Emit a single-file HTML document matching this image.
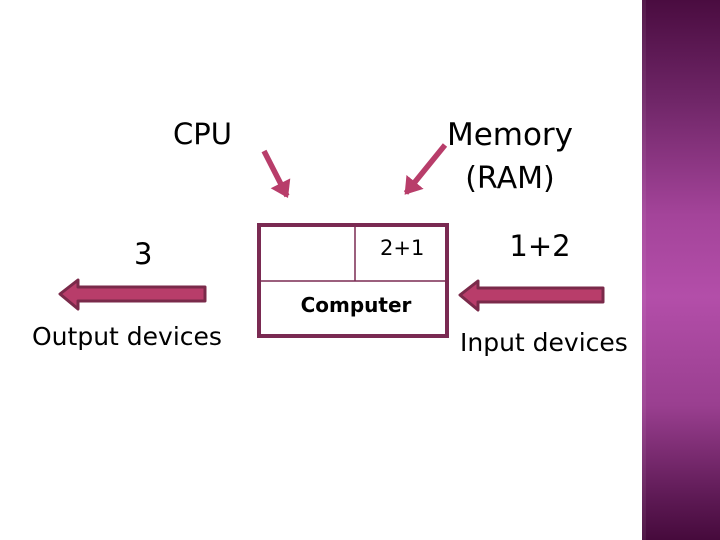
<!DOCTYPE html>
<html><head><meta charset="utf-8"><style>
html,body{margin:0;padding:0;background:#fff;}
body{width:720px;height:540px;overflow:hidden;position:relative;font-family:"DejaVu Sans","Liberation Sans",sans-serif;}
.bar{position:absolute;left:642px;top:0;width:78px;height:540px;
background:linear-gradient(to bottom,#4a0c40 0%,#6e2566 18%,#a4449a 40%,#b34ea9 55%,#9a3f90 75%,#5e1a55 92%,#460a3c 100%);}
.bar:before{content:"";position:absolute;left:0;top:0;width:4px;height:100%;background:rgba(255,255,255,0.06);}
</style></head><body>
<div class="bar"></div>
<svg width="720" height="540" style="position:absolute;left:0;top:0">
<defs>
<marker id="h" markerWidth="4" markerHeight="4" refX="2.6" refY="2" orient="auto" markerUnits="strokeWidth">
<path d="M0,0 L3,2 L0,4 Z" fill="#b83d6a"/></marker>
</defs>
<line x1="264" y1="151" x2="287" y2="196" stroke="#b83d6a" stroke-width="5.5" marker-end="url(#h)"/>
<line x1="445" y1="145" x2="406" y2="193" stroke="#b83d6a" stroke-width="5.5" marker-end="url(#h)"/>
<rect x="259" y="225" width="188" height="111" fill="none" stroke="#7a2a52" stroke-width="4"/>
<line x1="259" y1="281" x2="447" y2="281" stroke="#7a2a52" stroke-width="1.5"/>
<line x1="355" y1="225" x2="355" y2="281" stroke="#7a2a52" stroke-width="1.5"/>
<path d="M205,287 L78,287 L78,280 L60,294 L78,309 L78,301 L205,301 Z" fill="#b83d6a" stroke="#7a2a4a" stroke-width="3" stroke-linejoin="round"/>
<path d="M603,288 L478,288 L478,281 L460,295 L478,310 L478,302 L603,302 Z" fill="#b83d6a" stroke="#7a2a4a" stroke-width="3" stroke-linejoin="round"/>
<g font-family="DejaVu Sans, Liberation Sans, sans-serif" fill="#000">
<text x="173" y="144" font-size="29">CPU</text>
<text x="510" y="145" font-size="31" text-anchor="middle">Memory</text>
<text x="510" y="188" font-size="30" text-anchor="middle">(RAM)</text>
<text x="134" y="264" font-size="29">3</text>
<text x="540" y="256" font-size="29" text-anchor="middle">1+2</text>
<text x="380" y="255" font-size="21">2+1</text>
<text x="356" y="312" font-size="20" font-weight="600" text-anchor="middle">Computer</text>
<text x="32" y="345" font-size="25">Output devices</text>
<text x="460" y="351" font-size="25">Input devices</text>
</g>
</svg>
</body></html>
